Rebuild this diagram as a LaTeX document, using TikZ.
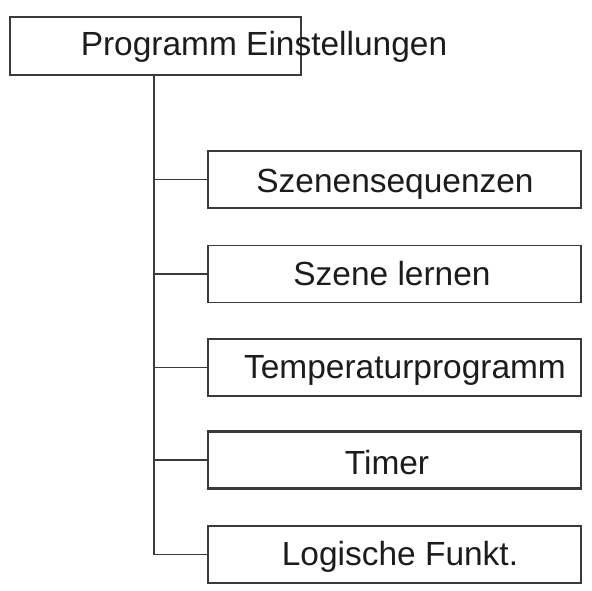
\documentclass[tikz,border=0pt]{standalone}
\usepackage{fontspec}
\setmainfont{Liberation Sans}
\definecolor{linegray}{HTML}{3A3A3A}
\definecolor{textgray}{HTML}{1C1C1C}
\begin{document}
\begin{tikzpicture}[x=0.75pt,y=-0.75pt,
  box/.style={draw=linegray,line width=1.3pt,rectangle,inner sep=0pt,outer sep=0pt,fill=none},
  topbox/.style={box,minimum width=218.25pt,minimum height=43.5pt},
  childbox/.style={box,minimum width=279.75pt,minimum height=42.75pt},
  lbl/.style={anchor=base,inner sep=0pt,text=textgray,font=\fontsize{25.1}{30}\selectfont},
  conn/.style={draw=linegray,line width=1.4pt}]
\useasboundingbox (0,0) rectangle (592,590);
\node[topbox] (top) at (155.5,46) {};
\node[childbox] (c1) at (394.5,179.5) {};
\node[childbox] (c2) at (394.5,274) {};
\node[childbox] (c3) at (394.5,367.5) {};
\node[childbox,line width=1.7pt] (c4) at (394.5,460) {};
\node[childbox] (c5) at (394.5,554.5) {};
\node[lbl] (ttop) at (264,55) {Programm Einstellungen};
\node[lbl] (t1) at (395,192) {Szenensequenzen};
\node[lbl] (t2) at (392,285) {Szene lernen};
\node[lbl] (t3) at (405,378) {Temperaturprogramm};
\node[lbl] (t4) at (387,474) {Timer};
\node[lbl] (t5) at (400,565) {Logische Funkt.};
\coordinate (trunk) at (154,75);
\draw[conn] (trunk) |- (c5.west);
\foreach \c in {c1,c2,c3,c4}{\draw[conn] (trunk |- \c.west) -- (\c.west);}
\end{tikzpicture}
\end{document}
